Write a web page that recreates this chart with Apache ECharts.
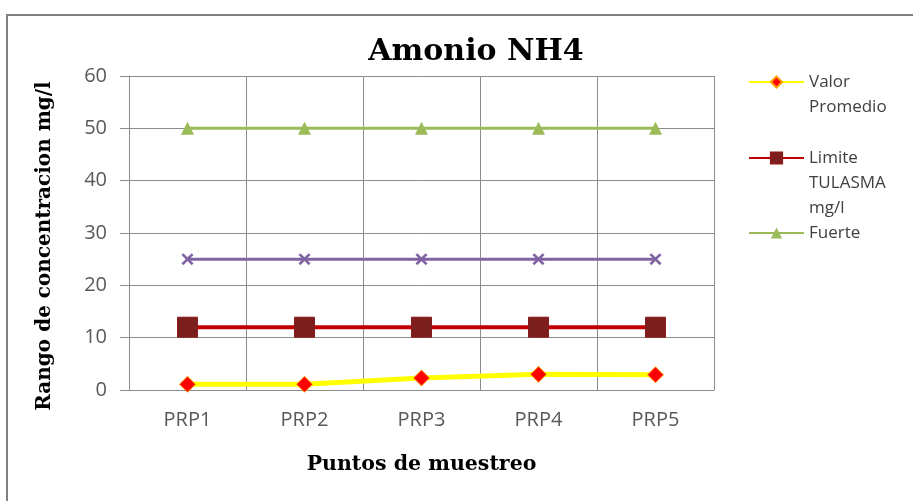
<!DOCTYPE html>
<html>
<head>
<meta charset="utf-8">
<script src="https://cdn.jsdelivr.net/npm/echarts@6/dist/echarts.min.js"></script>
<style>
  html, body { margin: 0; padding: 0; background: #fff; }
  #container { width: 913px; height: 501px; }
</style>
</head>
<body>
<div id="container"></div>
<script>
let categories = ['PRP1', 'PRP2', 'PRP3', 'PRP4', 'PRP5'];
let valorPromedio = [1.1, 1.1, 2.3, 3.0, 2.9];
let limiteTulasma = [12, 12, 12, 12, 12];
let fuerte = [50, 50, 50, 50, 50];
let serie4 = [25, 25, 25, 25, 25];
let yTicks = [0, 10, 20, 30, 40, 50, 60];

let dom = document.getElementById('container');
let myChart = echarts.init(dom);

let crossPath = 'path://M0,1.5L1.5,0L5,3.5L8.5,0L10,1.5L6.5,5L10,8.5L8.5,10L5,6.5L1.5,10L0,8.5L3.5,5Z';

// legend text, blank lines on top so the first line sits level with the icon
let legendText = {
    fontFamily: 'Open Sans',
    fontSize: 17,
    color: '#404040',
    lineHeight: 25
};

option = {
    animation: false,
    backgroundColor: '#fff',
    title: {
        text: 'Amonio NH4',
        left: 471,
        textAlign: 'center',
        top: 32,
        textStyle: {
            fontFamily: 'DejaVu Serif',
            fontWeight: 'bold',
            fontSize: 30,
            color: '#000'
        }
    },
    graphic: [{
        type: 'rect',
        shape: {x: 7, y: 15, width: 1000, height: 1000},
        style: {fill: 'none', stroke: '#808080', lineWidth: 2},
        silent: true
    }],
    legend: [
        {
            data: ['Valor Promedio'],
            left: 748, top: 44.5, padding: 0,
            itemWidth: 55, itemHeight: 14,
            formatter: ' \nValor\nPromedio',
            textStyle: legendText
        },
        {
            data: ['Limite TULASMA mg/l'],
            left: 748, top: 95.5, padding: 0,
            itemWidth: 55, itemHeight: 14,
            formatter: ' \n \nLimite\nTULASMA\nmg/l',
            textStyle: legendText
        },
        {
            data: ['Fuerte'],
            left: 748, top: 220.5, padding: 0,
            itemWidth: 55, itemHeight: 14,
            textStyle: legendText
        }
    ],
    grid: {
        left: 129,
        right: 199,
        top: 76,
        bottom: 111
    },
    xAxis: {
        type: 'category',
        data: categories,
        boundaryGap: true,
        name: 'Puntos de muestreo',
        nameLocation: 'middle',
        nameGap: 64,
        nameTextStyle: {
            fontFamily: 'DejaVu Serif',
            fontWeight: 'bold',
            fontSize: 20.5,
            color: '#000'
        },
        axisLine: {lineStyle: {color: '#8c8c8c', width: 1}},
        axisTick: {show: false},
        axisLabel: {
            margin: 20,
            fontFamily: 'Open Sans',
            fontSize: 20,
            color: '#595959'
        },
        splitLine: {show: true, lineStyle: {color: '#8c8c8c', width: 1}}
    },
    yAxis: {
        type: 'value',
        min: yTicks[0],
        max: yTicks[yTicks.length - 1],
        interval: 10,
        name: 'Rango de concentracion mg/l',
        nameLocation: 'middle',
        nameGap: 74,
        nameTextStyle: {
            fontFamily: 'DejaVu Serif',
            fontWeight: 'bold',
            fontSize: 20,
            color: '#000',
            padding: [0, 26, 0, 0]
        },
        axisLine: {show: true, lineStyle: {color: '#8c8c8c', width: 1}},
        axisTick: {show: true, inside: false, length: 9, lineStyle: {color: '#8c8c8c'}},
        axisLabel: {
            margin: 22,
            fontFamily: 'Open Sans',
            fontSize: 20,
            color: '#595959'
        },
        splitLine: {show: true, lineStyle: {color: '#8c8c8c', width: 1}}
    },
    series: [
        {
            name: 'Medio',
            type: 'line',
            data: serie4,
            symbol: crossPath,
            symbolSize: 12,
            lineStyle: {color: '#8064A2', width: 3},
            itemStyle: {color: '#8064A2'}
        },
        {
            name: 'Fuerte',
            type: 'line',
            data: fuerte,
            symbol: 'triangle',
            symbolSize: 13,
            lineStyle: {color: '#9BBB59', width: 3},
            itemStyle: {color: '#9BBB59'}
        },
        {
            name: 'Limite TULASMA mg/l',
            type: 'line',
            data: limiteTulasma,
            symbol: 'rect',
            symbolSize: 20,
            lineStyle: {color: '#C00000', width: 4},
            itemStyle: {color: '#7A1E1E', borderColor: '#8B1A1A', borderWidth: 1}
        },
        {
            name: 'Valor Promedio',
            type: 'line',
            data: valorPromedio,
            symbol: 'diamond',
            symbolSize: 16,
            lineStyle: {color: '#FFFF00', width: 5},
            itemStyle: {color: '#FF0000', borderColor: '#FFA000', borderWidth: 1}
        }
    ]
};
if (option && typeof option === 'object') {
    myChart.setOption(option, true);
}
</script>
</body>
</html>
